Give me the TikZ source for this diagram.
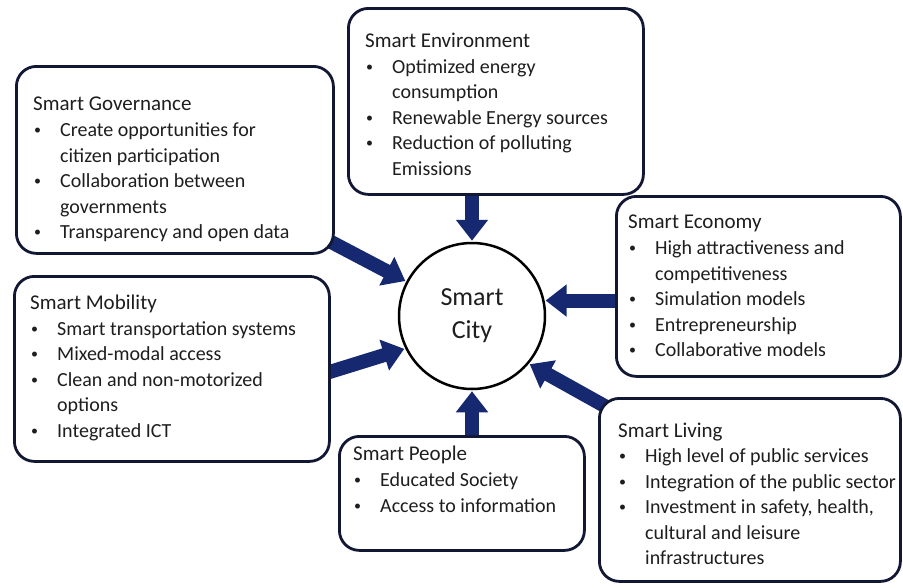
\documentclass[tikz,border=0pt]{standalone}
\usepackage{fontspec}
\setmainfont{Carlito}
\usetikzlibrary{arrows.meta}
\pgfdeclarelayer{background}
\pgfsetlayers{background,main}
\definecolor{navy}{RGB}{22,40,112}
\definecolor{boxline}{RGB}{18,24,52}
\definecolor{txt}{RGB}{30,30,30}
\newcommand\bul{\makebox[27pt][l]{\hspace*{1pt}\raisebox{1.8pt}{\fontsize{14}{14}\selectfont\textbullet}}}
\newcommand\ttl[1]{\multicolumn{2}{@{}l@{}}{\fontsize{21}{25.5}\selectfont #1}}
\begin{document}
\begin{tikzpicture}[x=1pt,y=-1pt,
  box/.style={draw=boxline, line width=2.8pt, rounded corners=20pt, fill=white, inner sep=0pt, anchor=north west},
  lst/.style={anchor=base west, inner sep=0pt, text=txt, font=\fontsize{20}{25.5}\selectfont},
  arr/.style={draw=navy, line width=14pt, -{Triangle[width=31pt,length=21pt]}, shorten >=1pt}]
\useasboundingbox (0,0) rectangle (903,587);

% boxes
\node[box, minimum width=317pt, minimum height=187pt] (gov) at (15,65) {};
\node[box, minimum width=295pt, minimum height=186pt] (env) at (347,7) {};
\node[box, minimum width=284pt, minimum height=180pt] (eco) at (615,195) {};
\node[box, minimum width=315pt, minimum height=185pt] (mob) at (13,275) {};
\node[box, minimum width=245pt, minimum height=114pt] (peo) at (338,435) {};
\node[box, minimum width=301pt, minimum height=183pt] (liv) at (598,397) {};

% centre
\node[circle, draw=black, line width=2.5pt, fill=white, minimum size=146pt, inner sep=0pt,
      align=center, text=txt, font=\fontsize{26}{33}\selectfont] (city) at (472,316) {Smart\\City};

% texts
\node[lst] (govt) at (33,110) {\begin{tabular}[t]{@{}l@{}l@{}}
\ttl{Smart Governance}\\[1pt]
\bul & Create opportunities for\\
     & citizen participation\\
\bul & Collaboration between\\
     & governments\\
\bul & Transparency and open data
\end{tabular}};

\node[lst] (envt) at (365,47) {\begin{tabular}[t]{@{}l@{}l@{}}
\ttl{Smart Environment}\\[0.5pt]
\bul & Optimized energy\\
     & consumption\\
\bul & Renewable Energy sources\\
\bul & Reduction of polluting\\
     & Emissions
\end{tabular}};

\node[lst] (ecot) at (628,228) {\begin{tabular}[t]{@{}l@{}l@{}}
\ttl{Smart Economy}\\[1pt]
\bul & High attractiveness and\\
     & competitiveness\\
\bul & Simulation models\\
\bul & Entrepreneurship\\
\bul & Collaborative models
\end{tabular}};

\node[lst] (mobt) at (30,309) {\begin{tabular}[t]{@{}l@{}l@{}}
\ttl{Smart Mobility}\\[0.5pt]
\bul & Smart transportation systems\\
\bul & Mixed-modal access\\
\bul & Clean and non-motorized\\
     & options\\
\bul & Integrated ICT
\end{tabular}};

\node[lst] (peot) at (353,460) {\begin{tabular}[t]{@{}l@{}l@{}}
\ttl{Smart People}\\[1pt]
\bul & Educated Society\\
\bul & Access to information
\end{tabular}};

\node[lst] (livt) at (618,437) {\begin{tabular}[t]{@{}l@{}l@{}}
\ttl{Smart Living}\\[0pt]
\bul & High level of public services\\
\bul & Integration of the public sector\\
\bul & Investment in safety, health,\\
     & cultural and leisure\\
     & infrastructures
\end{tabular}};

% arrows behind the boxes
\begin{pgfonlayer}{background}
\draw[arr] (gov.center) -- (city);
\draw[arr] (env.center -| city.center) -- (city.north);
\draw[arr] (eco.center |- city.12) -- (city.12);
\draw[arr] ([xshift=-30pt,yshift=-12pt]mob.east) -- (city.206);
\draw[arr] (peo.center -| city.center) -- (city.south);
\draw[arr] ([xshift=30pt,yshift=-22pt]liv.north west) -- (city.320);
\end{pgfonlayer}
\end{tikzpicture}
\end{document}
